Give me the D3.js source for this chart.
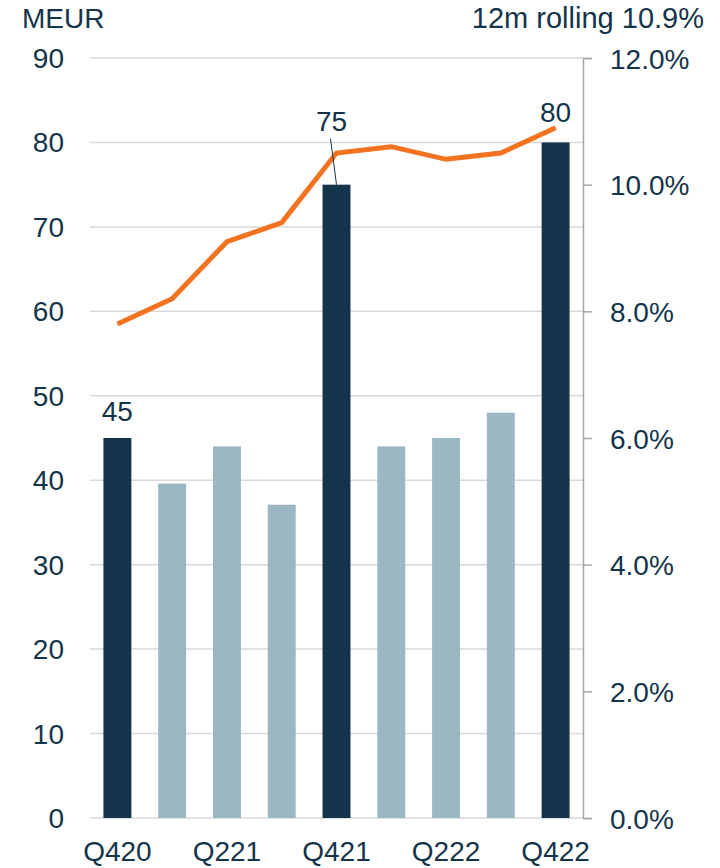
<!DOCTYPE html>
<html>
<head>
<meta charset="utf-8">
<script src="https://cdn.jsdelivr.net/npm/d3@7"></script>
<style>
  body { margin: 0; background: #fff; }
  svg text { font-family: "Liberation Sans", Arial, sans-serif; fill: #14344a; }
</style>
</head>
<body>
<svg id="chart" width="720" height="868"></svg>
<script>
// quarters, EBIT in MEUR, and the 12m rolling margin (%)
var quarters   = ['Q420','Q121','Q221','Q321','Q421','Q122','Q222','Q322','Q422'];
var ebit       = [45, 39.6, 44, 37.1, 75, 44, 45, 48, 80];
var highlight  = [true, false, false, false, true, false, false, false, true];
var rolling    = [7.8, 8.2, 9.1, 9.4, 10.5, 10.6, 10.4, 10.5, 10.9];
var leftTicks  = [0,10,20,30,40,50,60,70,80,90];
var rightTicks = [0,2,4,6,8,10,12];
var xLabels    = ['Q420','Q221','Q421','Q222','Q422'];

var svg = d3.select('#chart');
var L = 90, R = 583, T = 58, B = 818;

var x  = d3.scaleBand().domain(quarters).range([L, R]).paddingInner(0.49).paddingOuter(0.245);
var y  = d3.scaleLinear().domain([0, 90]).range([B, T]);
var y2 = d3.scaleLinear().domain([0, 12]).range([B, T]);

//gridlines
svg.append('g').selectAll('line').data(leftTicks).enter().append('line')
    .attr('x1', L).attr('x2', R)
    .attr('y1', function(d){ return y(d); }).attr('y2', function(d){ return y(d); })
    .attr('stroke', '#d9d9d9').attr('stroke-width', 1.5);

//left tick labels
svg.append('g').selectAll('text').data(leftTicks).enter().append('text')
    .attr('x', 64).attr('y', function(d){ return y(d) + 10; })
    .attr('text-anchor', 'end').attr('font-size', 28)
    .text(function(d){ return d; });

//right axis
var ra = svg.append('g').attr('transform', 'translate(' + R + ',0)')
    .call(d3.axisRight(y2).tickValues(rightTicks).tickSize(9).tickPadding(18)
        .tickFormat(function(d){ return d.toFixed(1) + '%'; }));
ra.select('.domain').attr('stroke', '#a6a6a6').attr('stroke-width', 1.5);
ra.selectAll('.tick line').attr('stroke', '#a6a6a6').attr('stroke-width', 1.5);
ra.selectAll('.tick text').attr('font-size', 28).attr('font-family', '"Liberation Sans", Arial, sans-serif')
    .attr('fill', '#14344a').attr('dy', '0.36em');

//bars
svg.append('g').selectAll('rect').data(quarters).enter().append('rect')
    .attr('x', function(d){ return x(d); })
    .attr('width', x.bandwidth())
    .attr('y', function(d,i){ return y(ebit[i]); })
    .attr('height', function(d,i){ return B - y(ebit[i]); })
    .attr('fill', function(d,i){ return highlight[i] ? '#13344b' : '#9bb7c3'; });

//line
var line = d3.line()
    .x(function(d,i){ return x(quarters[i]) + x.bandwidth()/2; })
    .y(function(d){ return y2(d); });
svg.append('path').datum(rolling)
    .attr('d', line).attr('fill', 'none')
    .attr('stroke', '#f47321').attr('stroke-width', 5);

//value labels on highlighted bars
var cx = function(q){ return x(q) + x.bandwidth()/2; };
svg.append('text').attr('x', cx('Q420')).attr('y', y(45) - 17)
    .attr('text-anchor', 'middle').attr('font-size', 28).text('45');
svg.append('line')
    .attr('x1', cx('Q421') - 6).attr('y1', y(75) - 46)
    .attr('x2', cx('Q421')).attr('y2', y(75))
    .attr('stroke', '#14344a').attr('stroke-width', 1);
svg.append('text').attr('x', cx('Q421') - 5).attr('y', y(75) - 54)
    .attr('text-anchor', 'middle').attr('font-size', 28).text('75');
svg.append('text').attr('x', cx('Q422')).attr('y', y(80) - 20)
    .attr('text-anchor', 'middle').attr('font-size', 28).text('80');

//x labels
svg.append('g').selectAll('text').data(xLabels).enter().append('text')
    .attr('x', function(d){ return cx(d); }).attr('y', 861)
    .attr('text-anchor', 'middle').attr('font-size', 28)
    .text(function(d){ return d; });

//titles
svg.append('text').attr('x', 22).attr('y', 28).attr('font-size', 28).text('MEUR');
svg.append('text').attr('x', 704).attr('y', 28).attr('text-anchor', 'end')
    .attr('font-size', 29).text('12m rolling 10.9%');
</script>
</body>
</html>
